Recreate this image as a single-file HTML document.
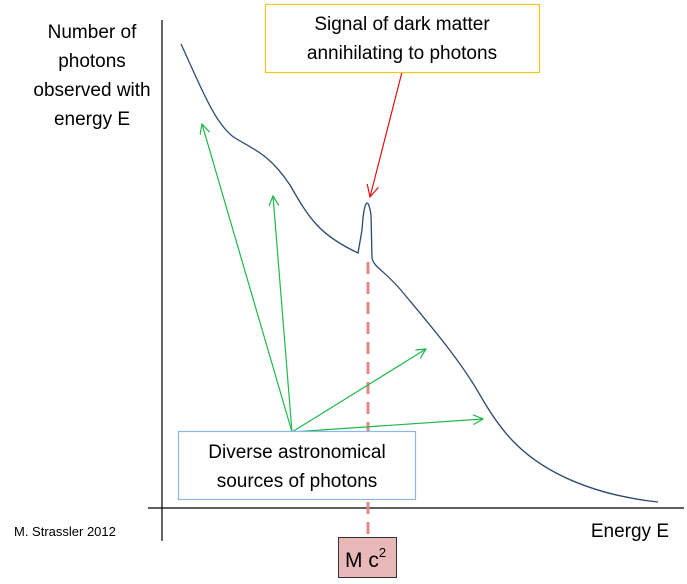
<!DOCTYPE html>
<html><head><style>
body{margin:0;background:#fff;}
svg text{font-family:"Liberation Sans",sans-serif;}
</style></head><body>
<svg width="687" height="579" xmlns="http://www.w3.org/2000/svg">
<defs>
<marker id="g" markerWidth="12" markerHeight="12" refX="10" refY="5" orient="auto" markerUnits="userSpaceOnUse"><path d="M0,0 L10,5 L0,10" fill="none" stroke="#1fb84a" stroke-width="1.2"/></marker>
<marker id="r" markerWidth="14" markerHeight="14" refX="12" refY="6" orient="auto" markerUnits="userSpaceOnUse"><path d="M0,0 L12,6 L0,12" fill="none" stroke="#d11" stroke-width="1.2"/></marker>
</defs>
<line x1="162" y1="20" x2="162" y2="541" stroke="#000" stroke-width="1.2"/>
<line x1="148" y1="508" x2="684" y2="508" stroke="#000" stroke-width="1.2"/>
<line x1="368" y1="262" x2="368" y2="537" stroke="#e08a8a" stroke-width="3" stroke-dasharray="12,8"/>
<path d="M181,44 C200,85 215,125 235,138 C255,150 270,155 290,185 C310,220 320,235 358,253 L362,230 C364,200 368,195 371,215 L372,258 C374,268 385,270 405,295 C430,325 460,360 480,395 C500,430 520,455 560,475 C600,495 640,500 658,502" fill="none" stroke="#2b4a70" stroke-width="1.3"/>
<g stroke="#1fb84a" stroke-width="1.2" fill="none">
<line x1="292" y1="432" x2="202" y2="124" marker-end="url(#g)"/>
<line x1="292" y1="432" x2="273" y2="196" marker-end="url(#g)"/>
<line x1="292" y1="432" x2="426" y2="349" marker-end="url(#g)"/>
<line x1="292" y1="432" x2="483" y2="419" marker-end="url(#g)"/>
</g>
<line x1="402" y1="72" x2="370" y2="197" stroke="#d11" stroke-width="1.2" marker-end="url(#r)"/>
<rect x="265.5" y="4.5" width="274" height="68" fill="#fff" stroke="#f5c518" stroke-width="1.2"/>
<text x="402" y="30" font-size="19" text-anchor="middle">Signal of dark matter</text>
<text x="402" y="59" font-size="19" text-anchor="middle">annihilating to photons</text>
<rect x="178.5" y="431.5" width="237" height="68" fill="#fff" stroke="#8ab8e8" stroke-width="1.2"/>
<text x="297" y="458" font-size="19" text-anchor="middle">Diverse astronomical</text>
<text x="297" y="487" font-size="19" text-anchor="middle">sources of photons</text>
<g font-size="19" text-anchor="middle">
<text x="92" y="38">Number of</text>
<text x="92" y="67">photons</text>
<text x="92" y="96">observed with</text>
<text x="92" y="125">energy E</text>
</g>
<text x="669" y="537" font-size="19" text-anchor="end">Energy E</text>
<text x="14" y="536" font-size="13">M. Strassler 2012</text>
<rect x="338.5" y="537.5" width="58" height="40" fill="#e8b8b8" stroke="#333" stroke-width="1"/>
<text x="345" y="567" font-size="21">M c<tspan font-size="13" dy="-10">2</tspan></text>
</svg>
</body></html>
